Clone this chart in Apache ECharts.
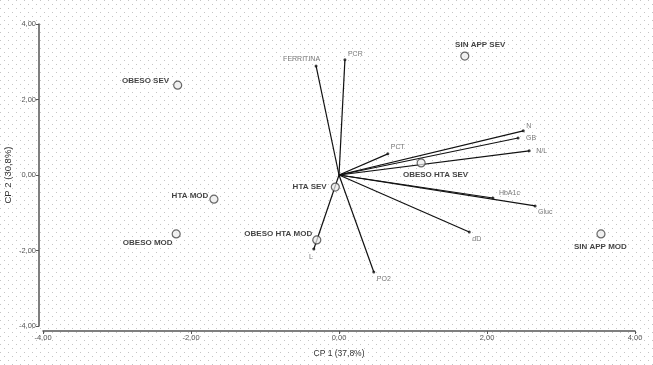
<!DOCTYPE html>
<html>
<head>
<meta charset="utf-8">
<script src="https://cdn.jsdelivr.net/npm/echarts@6/dist/echarts.min.js"></script>
<style>
html,body{margin:0;padding:0;background:#fff;}
#c{width:653px;height:365px;}
</style>
</head>
<body>
<div id="c"></div>
<script>
// ---- data ----
const varNames = ['FERRITINA','PCR','PCT','N','GB','N/L','HbA1c','Gluc','dD','PO2','L'];
const varX = [-0.31, 0.08, 0.66, 2.49, 2.42, 2.57, 2.08, 2.65, 1.76, 0.47, -0.34];
const varY = [2.89, 3.05, 0.56, 1.17, 0.98, 0.64, -0.61, -0.82, -1.51, -2.57, -1.96];

const groupNames = ['OBESO SEV','SIN APP SEV','HTA MOD','OBESO MOD','HTA SEV','OBESO HTA SEV','OBESO HTA MOD','SIN APP MOD'];
const groupX = [-2.18, 1.70, -1.69, -2.20, -0.05, 1.11, -0.30, 3.54];
const groupY = [2.38, 3.15, -0.64, -1.56, -0.32, 0.32, -1.72, -1.56];

const xTicks = [-4, -2, 0, 2, 4];
const yTicks = [-4, -2, 0, 2, 4];
const xTitle = 'CP 1 (37,8%)';
const yTitle = 'CP 2 (30,8%)';

// ---- label layout (pixel offsets from mark centre) ----
const groupLabelLayout = {
  'OBESO SEV':     {dx:-8, dy:-4, align:'right'},
  'SIN APP SEV':   {dx:16, dy:-11, align:'center'},
  'HTA MOD':       {dx:-5, dy:-3, align:'right'},
  'OBESO MOD':     {dx:-3, dy:10, align:'right'},
  'HTA SEV':       {dx:-8, dy:0, align:'right'},
  'OBESO HTA SEV': {dx:15, dy:12, align:'center'},
  'OBESO HTA MOD': {dx:-4, dy:-6, align:'right'},
  'SIN APP MOD':   {dx:0, dy:14, align:'center'}
};
const varLabelLayout = {
  'FERRITINA': {dx:4, dy:-7, align:'right'},
  'PCR':       {dx:3, dy:-6, align:'left'},
  'PCT':       {dx:3, dy:-7, align:'left'},
  'N':         {dx:3, dy:-5, align:'left'},
  'GB':        {dx:8, dy:0, align:'left'},
  'N/L':       {dx:7, dy:0, align:'left'},
  'HbA1c':     {dx:6, dy:-5, align:'left'},
  'Gluc':      {dx:3, dy:6, align:'left'},
  'dD':        {dx:3, dy:7, align:'left'},
  'PO2':       {dx:3, dy:7, align:'left'},
  'L':         {dx:-3, dy:8, align:'center'}
};

// dotted background pattern
const pc = document.createElement('canvas');
pc.width = 8; pc.height = 8;
const pctx = pc.getContext('2d');
pctx.fillStyle = '#fff'; pctx.fillRect(0,0,8,8);
pctx.fillStyle = '#c4c4c4';
pctx.fillRect(0,0,1,1); pctx.fillRect(4,4,1,1);

const fmt = v => v.toFixed(2).replace('.', ',');
const FONT = '"Liberation Sans", Arial, sans-serif';

const groupSize = 8, varSize = 3;
const groupData = groupNames.map((n,i) => {
  const L = groupLabelLayout[n];
  return {
    name: n, value: [groupX[i], groupY[i]],
    label: {position: [L.dx + groupSize/2, L.dy + groupSize/2], align: L.align, verticalAlign: 'middle'}
  };
});
const varData = varNames.map((n,i) => {
  const L = varLabelLayout[n];
  return {
    name: n, value: [varX[i], varY[i]],
    label: {position: [L.dx + varSize/2, L.dy + varSize/2], align: L.align, verticalAlign: 'middle'}
  };
});
const lineData = varNames.map((n,i) => ({coords: [[0,0],[varX[i], varY[i]]]}));

const chart = echarts.init(document.getElementById('c'), null, {renderer:'canvas'});
chart.setOption({
  animation: false,
  backgroundColor: {image: pc, repeat: 'repeat'},
  grid: {left: 43, right: 18, top: 24, bottom: 39, containLabel: false, outerBoundsMode: 'none'},
  xAxis: {
    type: 'value', min: -4, max: 4, interval: 2, offset: 5,
    name: xTitle, nameLocation: 'middle', nameGap: 18,
    nameTextStyle: {fontFamily: FONT, fontSize: 8.5, color: '#333'},
    axisLine: {show: true, onZero: false, lineStyle: {color: '#555', width: 1.5}},
    axisTick: {show: true, length: 3, lineStyle: {color: '#555'}},
    axisLabel: {formatter: fmt, fontFamily: FONT, fontSize: 7.5, color: '#555', margin: 3, customValues: xTicks},
    splitLine: {show: false}
  },
  yAxis: {
    type: 'value', min: -4, max: 4, interval: 2, offset: 4,
    name: yTitle, nameLocation: 'middle', nameGap: 26, nameRotate: 90, nameMoveOverlap: false,
    nameTextStyle: {fontFamily: FONT, fontSize: 9.5, color: '#333'},
    axisLine: {show: true, onZero: false, lineStyle: {color: '#555', width: 1.5}},
    axisTick: {show: true, length: 3, lineStyle: {color: '#555'}},
    axisLabel: {formatter: fmt, fontFamily: FONT, fontSize: 7.5, color: '#555', margin: 3, customValues: yTicks},
    splitLine: {show: false}
  },
  series: [
    {
      type: 'lines', coordinateSystem: 'cartesian2d', silent: true,
      data: lineData,
      lineStyle: {color: '#111', width: 1.2, opacity: 1},
      symbol: ['none','none'], z: 2
    },
    {
      type: 'scatter', data: varData, symbol: 'circle', symbolSize: varSize,
      itemStyle: {color: '#111'}, z: 3,
      label: {show: true, formatter: '{b}', fontFamily: FONT, fontSize: 7, color: '#555'}
    },
    {
      type: 'scatter', data: groupData, symbol: 'circle', symbolSize: groupSize,
      itemStyle: {color: 'rgba(235,235,235,0.9)', borderColor: '#444', borderWidth: 1.2}, z: 4,
      label: {show: true, formatter: '{b}', fontFamily: FONT, fontSize: 8, fontWeight: 'bold', color: '#111'}
    }
  ]
});
</script>
</body>
</html>
